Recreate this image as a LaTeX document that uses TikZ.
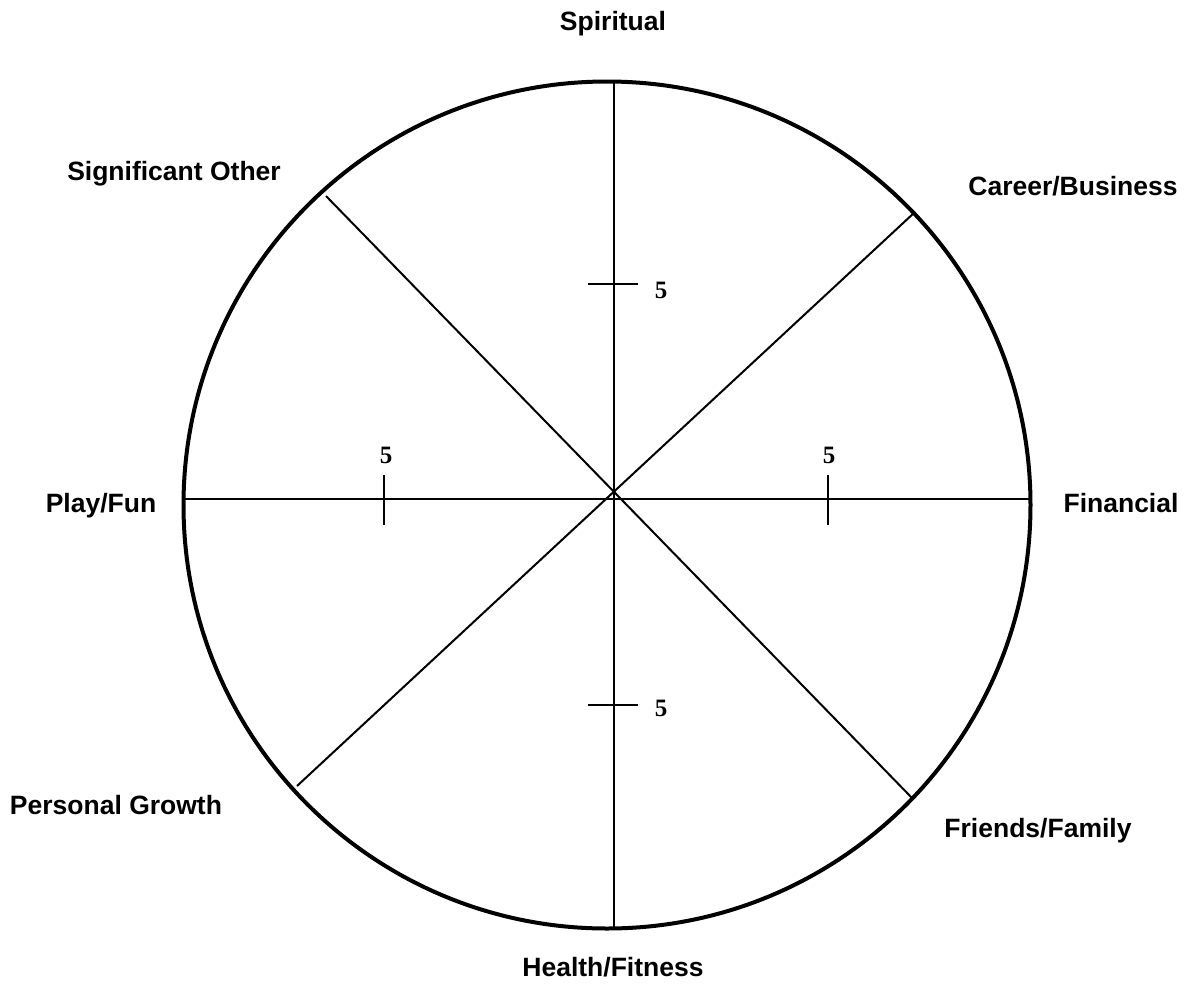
\documentclass[tikz,border=0pt]{standalone}
\usepackage{fontspec}
\setmainfont{Liberation Serif}
\setsansfont{Liberation Sans}
\begin{document}
\begin{tikzpicture}[x=1pt,y=-1pt,
  lbl/.style={font=\sffamily\bfseries\fontsize{26.5}{30}\selectfont, inner sep=0pt, anchor=base},
  num/.style={font=\rmfamily\bfseries\fontsize{25}{28}\selectfont, inner sep=0pt, anchor=base},
  ring/.style={draw, circle, line width=4pt, inner sep=0pt, minimum size=847pt},
  spoke/.style={line width=2pt},
  tick/.style={line width=2pt}]
\useasboundingbox (0,0) rectangle (1187,994);
\node[ring] (wheel) at (607,505) {};
% spoke ends
\coordinate (top) at (614,82);
\coordinate (bottom) at (614,928);
\coordinate (left) at (183,499);
\coordinate (right) at (1031,499);
\coordinate (ne) at (915,212);
\coordinate (sw) at (297,786);
\coordinate (nw) at (326,196);
\coordinate (se) at (913,799);
\draw[spoke] (top) -- (bottom);
\draw[spoke] (left) -- (right);
\draw[spoke] (ne) -- (sw);
\draw[spoke] (nw) -- (se);
% ticks
\coordinate (t1a) at (588,284); \coordinate (t1b) at (638,284);
\coordinate (t2a) at (588,705); \coordinate (t2b) at (638,705);
\coordinate (t3a) at (384,475); \coordinate (t3b) at (384,525);
\coordinate (t4a) at (828,475); \coordinate (t4b) at (828,525);
\draw[tick] (t1a) -- (t1b);
\draw[tick] (t2a) -- (t2b);
\draw[tick] (t3a) -- (t3b);
\draw[tick] (t4a) -- (t4b);
\node[num] (n1) at (661,298.5) {5};
\node[num] (n2) at (661,716) {5};
\node[num] (n3) at (386,463) {5};
\node[num] (n4) at (829,463) {5};
% labels
\node[lbl] (spiritual) at (613,30) {Spiritual};
\node[lbl] (sigother) at (174,180) {Significant Other};
\node[lbl] (career) at (1073,195) {Career/Business};
\node[lbl] (play) at (101,512) {Play/Fun};
\node[lbl] (financial) at (1121,512) {Financial};
\node[lbl] (personal) at (116,814) {Personal Growth};
\node[lbl] (friends) at (1038,837) {Friends/Family};
\node[lbl] (health) at (613,976) {Health/Fitness};
\end{tikzpicture}
\end{document}
